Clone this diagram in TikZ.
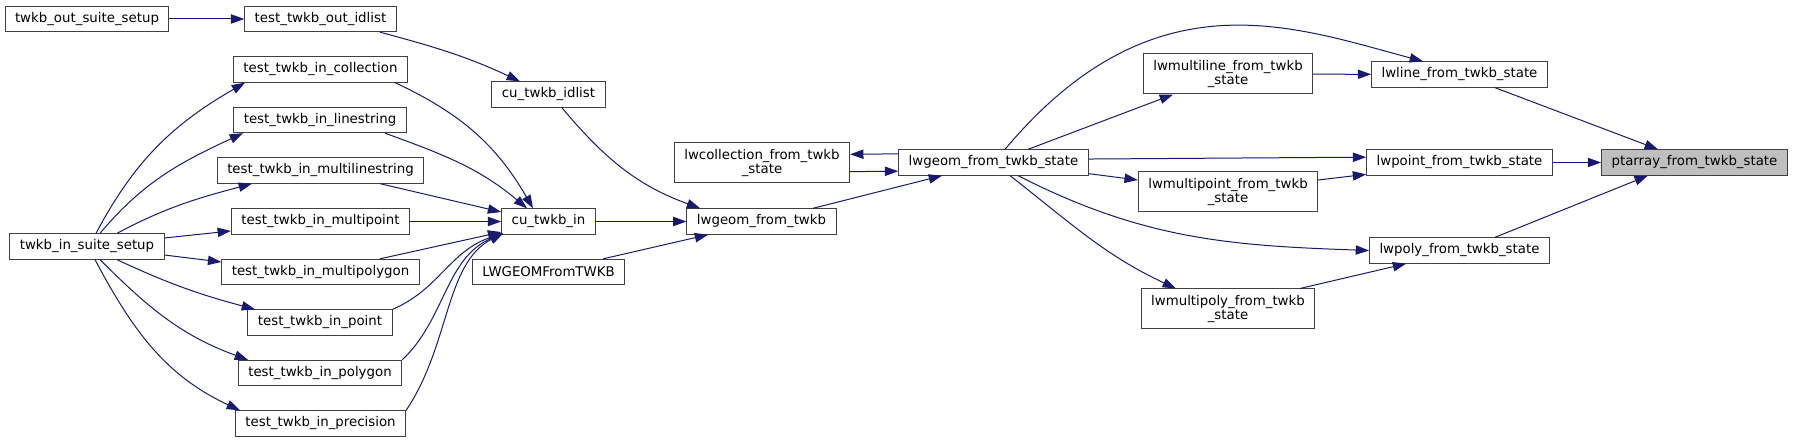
\documentclass[tikz,border=0pt]{standalone}
\usepackage{fontspec}
\setmainfont{DejaVu Sans}
\usepackage{xcolor}
\usepackage{tikz}
\usetikzlibrary{arrows.meta}
\definecolor{edgeblue}{HTML}{191970}
\definecolor{nodegray}{HTML}{BFBFBF}
\definecolor{nodeline}{HTML}{404040}
\tikzset{
    funnode/.style = {rectangle, draw=nodeline, fill=white, align=center, minimum height=19pt, inner xsep=7.5pt, inner ysep=2pt},
    funnodew/.style = {funnode, minimum height=30pt},
    funnodeg/.style = {funnode, fill=nodegray},
}

\begin{document}
\begin{tikzpicture}[
	x=0.75pt, y=0.75pt,
	line width=0.75pt,
	font=\fontsize{10}{10}\selectfont
]
\tikzset{
    calledge/.style = {-{Triangle[length=10pt,width=7pt]}, draw=edgeblue, line width=0.75pt},
}
\useasboundingbox (0,0) rectangle (1793,443);
\node[funnode] at (87,424) (outsuite) {twkb\_out\_suite\_setup};
\node[funnode] at (320.5,424) (outidlist) {test\_twkb\_out\_idlist};
\node[funnode] at (320.5,373.5) (incoll) {test\_twkb\_in\_collection};
\node[funnode] at (320,323) (inline) {test\_twkb\_in\_linestring};
\node[funnode] at (320.5,272.5) (inmline) {test\_twkb\_in\_multilinestring};
\node[funnode] at (320.5,221.5) (inmpoint) {test\_twkb\_in\_multipoint};
\node[funnode] at (87,196.5) (insuite) {twkb\_in\_suite\_setup};
\node[funnode] at (320.5,171) (inmpoly) {test\_twkb\_in\_multipolygon};
\node[funnode] at (320,120.5) (inpoint) {test\_twkb\_in\_point};
\node[funnode] at (320,70) (inpoly) {test\_twkb\_in\_polygon};
\node[funnode] at (320.5,19.5) (inprec) {test\_twkb\_in\_precision};
\node[funnode] at (548.5,348.5) (cuidlist) {cu\_twkb\_idlist};
\node[funnode] at (548.5,221.5) (cuin) {cu\_twkb\_in};
\node[funnode] at (548.5,171) (lwgfrom) {LWGEOMFromTWKB};
\node[funnodew] at (762,280) (lwcoll) {lwcollection\_from\_twkb\\\_state};
\node[funnode] at (761.5,221.5) (lwgtwkb) {lwgeom\_from\_twkb};
\node[funnode] at (993.5,280.5) (lwgstate) {lwgeom\_from\_twkb\_state};
\node[funnodew] at (1228,369) (lwmline) {lwmultiline\_from\_twkb\\\_state};
\node[funnodew] at (1228,251) (lwmpoint) {lwmultipoint\_from\_twkb\\\_state};
\node[funnodew] at (1228,134) (lwmpoly) {lwmultipoly\_from\_twkb\\\_state};
\node[funnode] at (1459.5,368.5) (lwline) {lwline\_from\_twkb\_state};
\node[funnode] at (1459.5,280.5) (lwpoint) {lwpoint\_from\_twkb\_state};
\node[funnode] at (1459.5,192.5) (lwpoly) {lwpoly\_from\_twkb\_state};
\node[funnodeg] at (1694.5,280.5) (ptarray) {ptarray\_from\_twkb\_state};
%
\draw[calledge] (outsuite) -- (outidlist);
\draw[calledge] ([xshift=44.6pt]outidlist.south) to[out=-15,in=155] ([xshift=-21.4pt]cuidlist.north);
%
\draw[calledge] ([xshift=6.75pt]insuite.north) to[out=62,in=210] ([xshift=-56.6pt]incoll.south);
\draw[calledge] ([xshift=9.75pt]insuite.north) to[out=50,in=205] ([xshift=-57.75pt]inline.south);
\draw[calledge] ([xshift=22.5pt]insuite.north) to[out=28,in=195] ([xshift=-51.4pt]inmline.south);
\draw[calledge] ([yshift=6.4pt]insuite.east) -- ([yshift=-7.1pt]inmpoint.west);
\draw[calledge] ([yshift=-6.4pt]insuite.east) -- ([yshift=7.5pt]inmpoly.west);
\draw[calledge] ([xshift=22.5pt]insuite.south) to[out=-25,in=165] ([xshift=-48.75pt]inpoint.north);
\draw[calledge] ([xshift=9.75pt]insuite.south) to[out=-45,in=160] ([xshift=-54pt]inpoly.north);
\draw[calledge] ([xshift=6pt]insuite.south) to[out=-62,in=155] ([xshift=-60.4pt]inprec.north);
%
\draw[calledge] ([xshift=55.9pt]incoll.south) to[out=-25,in=120] ([xshift=-11.6pt]cuin.north);
\draw[calledge] ([xshift=48.75pt]inline.south) to[out=-20,in=140] ([xshift=-16.1pt]cuin.north);
\draw[calledge] ([xshift=44.6pt]inmline.south) -- ([yshift=7.1pt]cuin.west);
\draw[calledge] (inmpoint) -- (cuin);
\draw[calledge] ([xshift=44.6pt]inmpoly.north) -- ([yshift=-7.9pt]cuin.west);
\draw[calledge] (inpoint.north east) to[out=23,in=198,out distance=38pt,in distance=42pt] ([xshift=1.5pt,yshift=1pt]cuin.south west);
\draw[calledge] (inpoly.north east) to[out=43,in=203,out distance=44pt,in distance=47pt] ([xshift=1.5pt,yshift=1pt]cuin.south west);
\draw[calledge] (inprec.north east) to[out=56,in=207,out distance=59pt,in distance=49pt] ([xshift=1.5pt,yshift=1pt]cuin.south west);
%
\draw[calledge] ([xshift=10pt]cuidlist.south) to[out=-50,in=160] ([xshift=-46pt]lwgtwkb.north);
\draw[calledge] (cuin) -- (lwgtwkb);
\draw[calledge] ([xshift=41pt]lwgfrom.north) -- ([xshift=-40pt]lwgtwkb.south);
\draw[calledge] ([xshift=38.6pt]lwgtwkb.north) -- ([xshift=-38.6pt]lwgstate.south);
\draw[calledge] ([yshift=6.5pt]lwgstate.west) -- ([yshift=6.5pt]lwcoll.east);
\draw[calledge] ([yshift=-6.5pt]lwcoll.east) -- ([yshift=-6.5pt]lwgstate.west);
%
\draw[calledge] ([xshift=8.6pt]lwgstate.north) to[out=50,in=165,out distance=172pt,in distance=102pt] ([xshift=-27.4pt]lwline.north);
\draw[calledge] ([xshift=25.9pt]lwgstate.north) -- ([xshift=-41.25pt]lwmline.south);
\draw[calledge] ([yshift=2.6pt]lwgstate.east) -- ([yshift=4pt]lwpoint.west);
\draw[calledge] ([yshift=1.5pt]lwgstate.south east) -- ([yshift=9pt]lwmpoint.west);
\draw[calledge] ([xshift=18.4pt]lwgstate.south) to[out=-27,in=178] (lwpoly.west);
\draw[calledge] ([xshift=12.4pt]lwgstate.south) to[out=-38,in=155] ([xshift=-39pt]lwmpoly.north);
%
\draw[calledge] (lwmline) -- (lwline);
\draw[calledge] ([yshift=9pt]lwmpoint.east) -- ([yshift=1pt]lwpoint.south west);
\draw[calledge] ([xshift=54pt]lwmpoly.north) -- ([xshift=-40pt]lwpoly.south);
\draw[calledge] ([xshift=26.6pt]lwline.south) -- ([xshift=-27.4pt]ptarray.north);
\draw[calledge] (lwpoint) -- (ptarray);
\draw[calledge] ([xshift=26.6pt]lwpoly.north) -- ([xshift=-35pt]ptarray.south);
\end{tikzpicture}
\end{document}
